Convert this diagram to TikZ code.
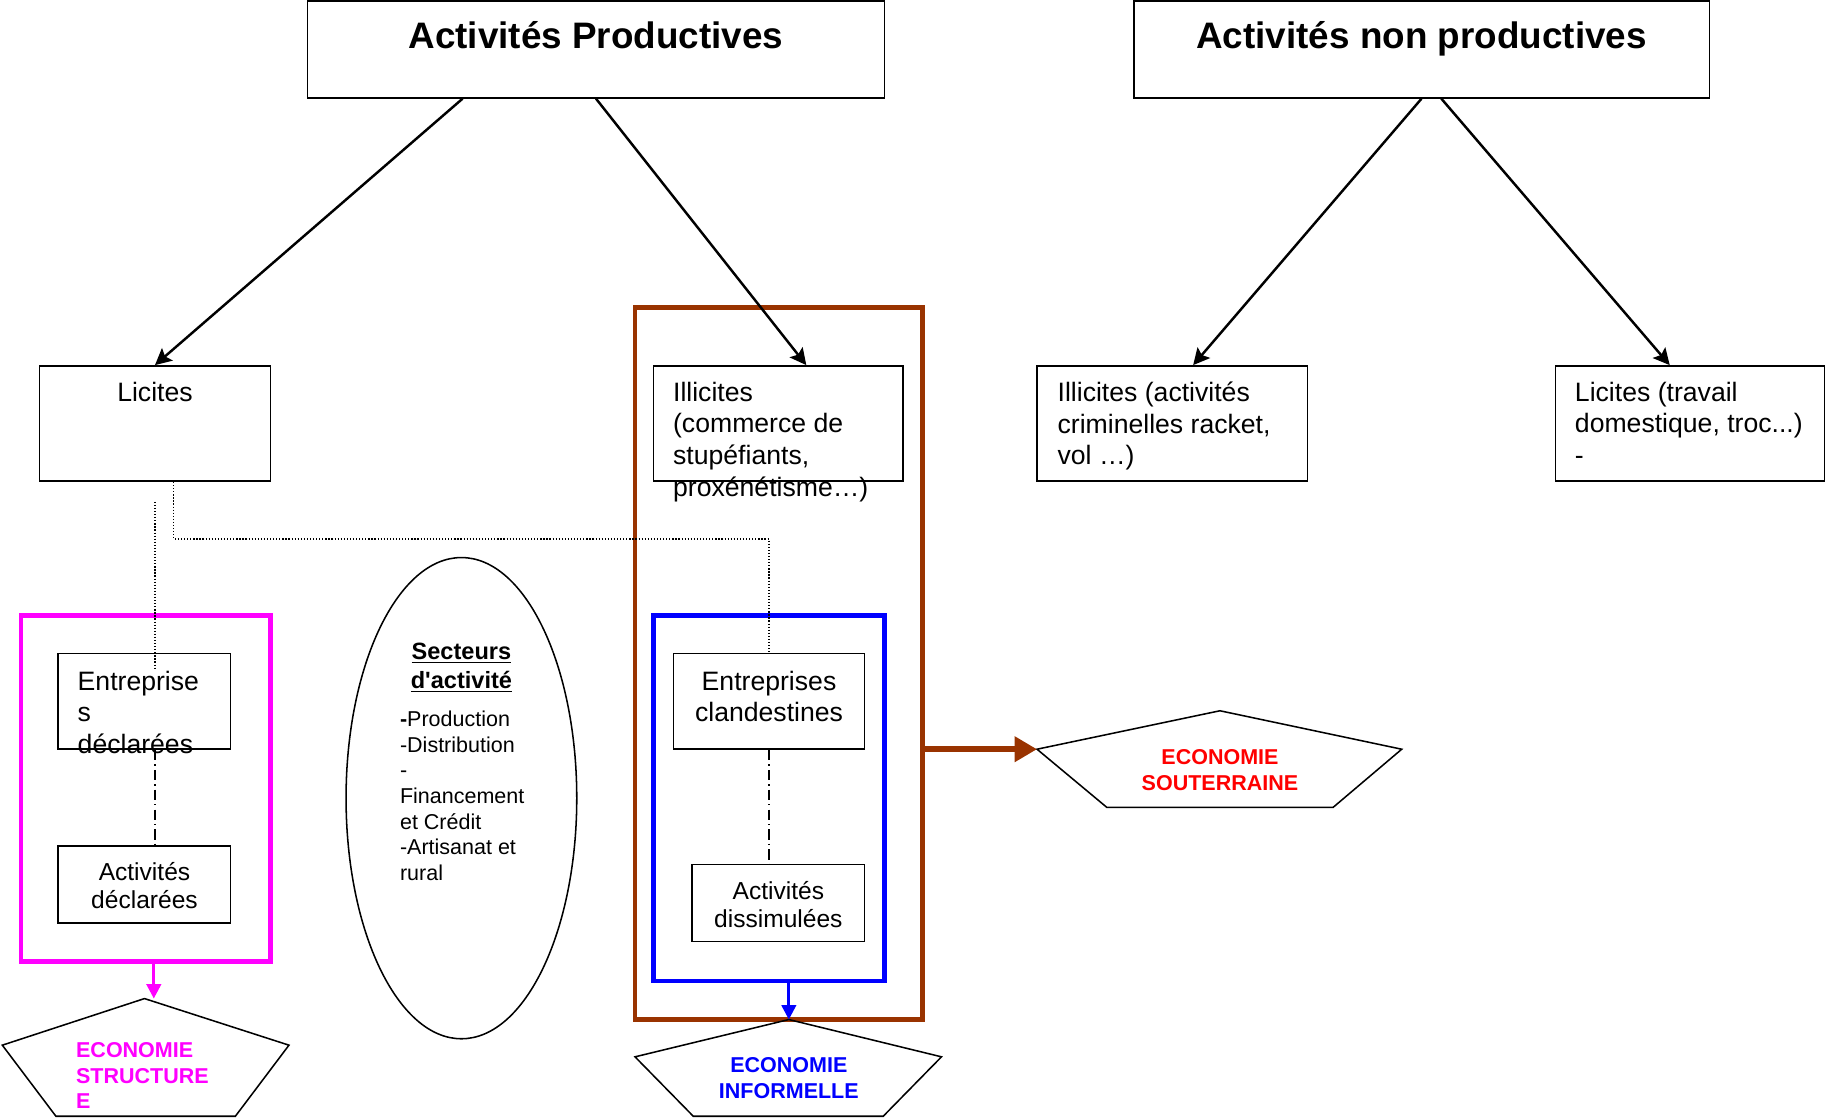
\documentclass[tikz,border=0pt]{standalone}
\usepackage{fontspec}
\setmainfont{Liberation Sans}
\usetikzlibrary{shapes.geometric, arrows.meta, positioning, calc}

\definecolor{brun}{RGB}{153,51,0}
\definecolor{rose}{RGB}{255,0,255}

\begin{document}
\begin{tikzpicture}[
    x=0.02cm, y=-0.02cm,
    >={Stealth[length=8pt,width=8pt,inset=1.5pt]},
    sz/.style 2 args={minimum width=#1*0.02cm, minimum height=#2*0.02cm},
    box/.style={rectangle, draw=black, line width=0.75pt, inner sep=0pt},
    cadre/.style={rectangle, line width=2.3pt, inner sep=0pt},
    titre/.style={inner sep=0pt, font=\fontsize{18}{21}\selectfont\bfseries},
    txt/.style={inner sep=0pt, align=left, font=\fontsize{13}{15.5}\selectfont},
    ctxt/.style={inner sep=0pt, align=center, font=\fontsize{12}{13.8}\selectfont},
    eco/.style={inner sep=0pt, align=center, font=\fontsize{10.5}{12.5}\selectfont\bfseries},
    penta/.style={draw=black, line width=0.75pt},
    fleche/.style={->, line width=1.2pt},
    pointille/.style={line width=0.6pt, dash pattern=on 0.6pt off 0.9pt},
    mixte/.style={line width=0.6pt, dash pattern=on 5pt off 2pt on 0.7pt off 2pt}
]
\useasboundingbox (0,0) rectangle (1568,960);

% Cadres
\node[cadre, draw=brun, sz={247}{611}] (illegal) at (668.5,569.5) {};
\node[cadre, draw=rose, sz={214}{297}] (declare) at (125,676.5) {};
\node[cadre, draw=blue, sz={198}{314}] (informel) at (660,685) {};

% Nodes
\node[box, sz={495}{83}] (prod) at (511.5,42.5) {};
\node[titre, below=0.35cm of prod.north] (prod-t) {Activités Productives};
\node[box, sz={494}{83}] (nonprod) at (1220,42.5) {};
\node[titre, below=0.35cm of nonprod.north] (nonprod-t) {Activités non productives};

\node[box, sz={198}{99}] (licites) at (133,363.5) {};
\node[txt, below=0.28cm of licites.north] (licites-t) {Licites};
\node[box, sz={214}{99}] (illic) at (668,363.5) {};
\node[txt, below right=0.28cm and 0.34cm of illic.north west] (illic-t) {Illicites\\(commerce de\\stupéfiants,\\proxénétisme…)};
\node[box, sz={232}{99}] (illic2) at (1006,363.5) {};
\node[txt, below right=0.28cm and 0.36cm of illic2.north west] (illic2-t) {Illicites (activités\\criminelles racket,\\vol …)};
\node[box, sz={231}{99}] (licites2) at (1450.5,363.5) {};
\node[txt, below right=0.28cm and 0.34cm of licites2.north west] (licites2-t) {Licites (travail\\domestique, troc...)\\-};

\node[box, sz={148}{82}] (entdecl) at (124,602) {};
\node[txt, below right=0.3cm and 0.34cm of entdecl.north west] (entdecl-t) {Entreprise\\s\\déclarées};
\node[box, sz={148}{66}] (actdecl) at (124,759) {};
\node[ctxt, below=0.29cm of actdecl.north] (actdecl-t) {Activités\\déclarées};

\node[box, sz={164}{82}] (entcland) at (660,602) {};
\node[txt, align=center, below=0.3cm of entcland.north] (entcland-t) {Entreprises\\clandestines};
\node[box, sz={148}{66}] (actdiss) at (668,775) {};
\node[ctxt, below=0.29cm of actdiss.north] (actdiss-t) {Activités\\dissimulées};

\node[ellipse, draw=black, line width=0.75pt, inner sep=0pt, sz={198}{413}] (secteurs) at (396,685) {};
\node[inner sep=0pt, align=center, font=\fontsize{11.5}{14.2}\selectfont\bfseries] (secteurs-t) at (396,573)
    {\underline{Secteurs}\\\underline{d\textquotesingle activité}};
\node[inner sep=0pt, align=left, anchor=north west, font=\fontsize{10.5}{12.5}\selectfont] (secteurs-l) at (343,610)
    {{\bfseries -}Production\\-Distribution\\-\\Financement\\et Crédit\\-Artisanat et\\rural};

% Pentagones
\draw[penta] (1047,610) coordinate (sout-n) -- (1203,643) -- (1144,693) -- (950,693) -- (890,643) coordinate (sout-w) -- cycle;
\node[eco, text=red] (sout-t) at (1047,661) {ECONOMIE\\SOUTERRAINE};
\draw[penta] (124,857) coordinate (struct-n) -- (248,897) -- (202,958) -- (48,958) -- (2,897) -- cycle;
\node[eco, align=left, text=rose, anchor=north west] (struct-t) at (65,894.5) {ECONOMIE\\STRUCTURE\\E};
\draw[penta] (677,875) coordinate (inf-n) -- (808,907) -- (758,958) -- (595,958) -- (545,907) -- cycle;
\node[eco, text=blue] (inf-t) at (677,925) {ECONOMIE\\INFORMELLE};
\coordinate (struct-in) at ($(struct-n)+(8,0)$);

% Links
\draw[fleche] ([xshift=-2.29cm]prod.south) -- (licites.north);
\draw[fleche] (prod.south) -- ([xshift=0.48cm]illic.north);
\draw[fleche] (nonprod.south) -- ([xshift=0.36cm]illic2.north);
\draw[fleche] ([xshift=0.34cm]nonprod.south) -- ([xshift=-0.35cm]licites2.north);

\draw[pointille] ($(licites.south)+(0,17)$) -- ($(licites.south |- entdecl.north)+(0,15)$);
\draw[pointille] ([xshift=0.32cm]licites.south) -- ++(0,49) -| (entcland.north);
\draw[mixte] ($(entdecl.south)+(9,0)$) -- ($(entdecl.south |- actdecl.north)+(9,0)$);
\draw[mixte] (entcland.south) -- (entcland.south |- actdiss.north);

\draw[-{Triangle[length=7pt,width=7pt]}, rose, line width=1.4pt] (declare.south -| struct-in) -- (struct-in);
\draw[-{Triangle[length=7pt,width=7pt]}, blue, line width=1.4pt] (informel.south -| inf-n) -- (inf-n);
\draw[-{Triangle[length=11pt,width=12pt]}, brun, line width=2.8pt] (illegal.east |- sout-w) -- (sout-w);

\end{tikzpicture}
\end{document}
